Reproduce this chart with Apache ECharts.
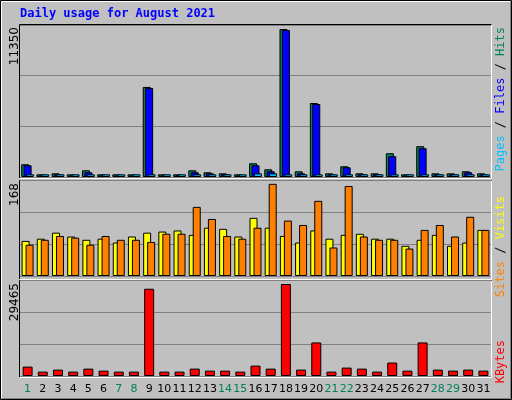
<!DOCTYPE html><html><head><meta charset="utf-8">
<script src="https://cdn.jsdelivr.net/npm/echarts@6/dist/echarts.min.js"></script>
<style>html,body{margin:0;padding:0;background:#c0c0c0}#c{width:512px;height:400px}</style></head><body><div id="c"></div><script>
const days=[];for(let i=1;i<=31;i++)days.push(String(i));
const weekendDays=[1,7,8,14,15,21,22,28,29];
const hits=[976,205,282,205,514,205,205,205,6908,205,205,514,360,282,205,1053,590,11350,437,5675,282,822,282,282,1823,205,2362,282,282,437,282];
const files=[899,128,205,128,360,128,128,128,6831,128,128,360,282,205,128,899,437,11273,282,5598,205,745,205,205,1592,128,2208,205,205,360,205];
const pages=[205,205,205,205,205,205,205,205,205,205,205,205,205,205,205,282,282,205,205,205,205,205,205,205,205,205,205,205,205,205,205];
const visits=[64,68,79,72,66,68,61,72,79,81,83,75,88,86,72,106,88,73,61,83,68,75,77,68,68,55,66,75,55,61,84];
const sites=[57,66,73,70,57,73,66,66,62,77,77,126,104,73,68,88,168,101,93,137,52,164,72,66,66,50,84,93,72,108,84];
const kbytes=[3010,1398,2043,1398,2365,1720,1398,1398,27950,1398,1398,2365,1720,1720,1398,3333,2365,29465,2043,10750,1398,2688,2365,1398,4300,1720,10750,2043,1720,2043,1720];
const maxLabels=['11350','168','29465'];
const ch=echarts.init(document.getElementById('c'));
const grids=[{left:20,right:21,top:25,height:152},{left:20,right:21,top:180,height:96},{left:20,right:21,top:280,height:96}];
const maxes=[11657,175,30750];
const bs={borderColor:'#000',borderWidth:1};
function yA(i){return {gridIndex:i,type:'value',min:0,max:maxes[i],interval:maxes[i]/3,axisLabel:{show:false},axisTick:{show:false},axisLine:{show:false},splitLine:{show:true,lineStyle:{color:'#808080',width:1}}};}
function xA(i){return {gridIndex:i,type:'category',data:days,axisTick:{show:false},axisLine:{show:false},
 axisLabel:{show:i===2,fontFamily:'DejaVu Sans',fontSize:11,margin:8,interval:0,color:(v)=>weekendDays.includes(+v)?'#00805c':'#000'}};}
const rf='12px "DejaVu Sans Mono"';
ch.setOption({animation:false,backgroundColor:'#c0c0c0',
grid:grids,xAxis:[xA(0),xA(1),xA(2)],yAxis:[yA(0),yA(1),yA(2)],
series:[
{type:'bar',xAxisIndex:0,yAxisIndex:0,data:hits,barWidth:8,barGap:'-70%',itemStyle:{color:'#00805c',...bs}},
{type:'bar',xAxisIndex:0,yAxisIndex:0,data:files,barWidth:8,barGap:'-70%',itemStyle:{color:'#0000ff',...bs}},
{type:'bar',xAxisIndex:0,yAxisIndex:0,data:pages,barWidth:8,barGap:'-70%',itemStyle:{color:'#00c0ff',...bs}},
{type:'bar',xAxisIndex:1,yAxisIndex:1,data:visits,barWidth:8,barGap:'-50%',itemStyle:{color:'#ffff00',...bs}},
{type:'bar',xAxisIndex:1,yAxisIndex:1,data:sites,barWidth:8,barGap:'-50%',itemStyle:{color:'#ff8000',...bs}},
{type:'bar',xAxisIndex:2,yAxisIndex:2,data:kbytes,barWidth:10,itemStyle:{color:'#ff0000',...bs}}
],
graphic:[
{type:'rect',shape:{x:0.5,y:0.5,width:511,height:399},style:{fill:null,stroke:'#000',lineWidth:1},z:-1},
{type:'polyline',shape:{points:[[1.5,398],[1.5,1.5],[510,1.5]]},style:{stroke:'#fff',lineWidth:1,fill:null}},
{type:'polyline',shape:{points:[[2,398.5],[510.5,398.5],[510.5,2]]},style:{stroke:'#808080',lineWidth:1,fill:null}},
{type:'polyline',shape:{points:[[19.5,178],[19.5,24.5],[491.5,24.5]]},style:{stroke:'#000',lineWidth:1,fill:null}},
{type:'polyline',shape:{points:[[20,178.5],[491.5,178.5],[491.5,25]]},style:{stroke:'#fff',lineWidth:1,fill:null}},
{type:'polyline',shape:{points:[[19.5,279],[19.5,180.5],[491.5,180.5]]},style:{stroke:'#000',lineWidth:1,fill:null}},
{type:'polyline',shape:{points:[[20,279.5],[491.5,279.5],[491.5,181]]},style:{stroke:'#fff',lineWidth:1,fill:null}},
{type:'polyline',shape:{points:[[19.5,377],[19.5,280.5],[491.5,280.5]]},style:{stroke:'#000',lineWidth:1,fill:null}},
{type:'polyline',shape:{points:[[20,377.5],[491.5,377.5],[491.5,281]]},style:{stroke:'#fff',lineWidth:1,fill:null}},
{type:'text',left:20,top:8,style:{text:'Daily usage for August 2021',font:'bold 12px "DejaVu Sans Mono"',fill:'#0000ff'}},
{type:'text',x:9,y:27,rotation:Math.PI/2,style:{text:maxLabels[0],font:'12px "DejaVu Sans"',fill:'#000',align:'right',verticalAlign:'top'}},
{type:'text',x:9,y:183,rotation:Math.PI/2,style:{text:maxLabels[1],font:'12px "DejaVu Sans"',fill:'#000',align:'right',verticalAlign:'top'}},
{type:'text',x:9,y:283,rotation:Math.PI/2,style:{text:maxLabels[2],font:'12px "DejaVu Sans"',fill:'#000',align:'right',verticalAlign:'top'}},
{type:'text',x:495,y:27,rotation:Math.PI/2,style:{text:'{p|Pages}{s| / }{f|Files}{s| / }{h|Hits}',align:'right',verticalAlign:'top',font:rf,
 rich:{p:{fill:'#00c0ff',font:rf},s:{fill:'#000',font:rf},f:{fill:'#0000ff',font:rf},h:{fill:'#00805c',font:rf}}}},
{type:'text',x:495,y:196,rotation:Math.PI/2,style:{text:'{a|Sites}{s| / }{b|Visits}',align:'right',verticalAlign:'top',font:rf,
 rich:{a:{fill:'#ff8000',font:rf},s:{fill:'#000',font:rf},b:{fill:'#ffff00',font:rf}}}},
{type:'text',x:495,y:340,rotation:Math.PI/2,style:{text:'KBytes',align:'right',verticalAlign:'top',font:rf,fill:'#ff0000'}}
]});
</script></body></html>
